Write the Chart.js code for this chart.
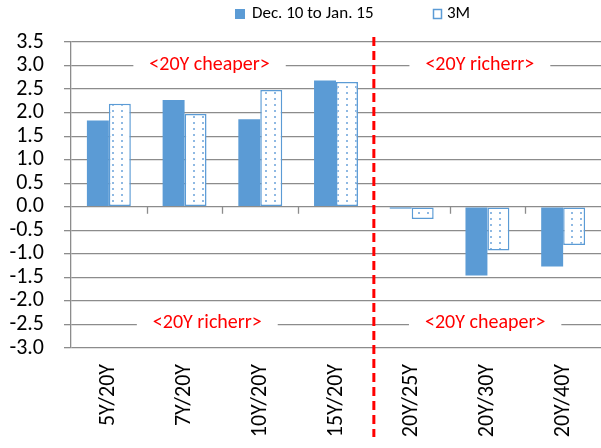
<!doctype html>
<html lang="en">
<head>
<meta charset="utf-8">
<title>20Y relative value</title>
<script src="https://cdn.jsdelivr.net/npm/chart.js"></script>
<style>
  html, body { margin: 0; padding: 0; background: #fff; }
</style>
</head>
<body>
<canvas id="barChart" width="601" height="448"></canvas>
<script>
const categories = ['5Y/20Y', '7Y/20Y', '10Y/20Y', '15Y/20Y', '20Y/25Y', '20Y/30Y', '20Y/40Y'];
const decToJan = [1.83, 2.27, 1.86, 2.68, -0.04, -1.46, -1.27];
const threeMonth = [2.19, 1.97, 2.48, 2.65, -0.26, -0.93, -0.81];
const seriesNames = ['Dec. 10 to Jan. 15', '3M'];
const yMin = -3.0, yMax = 3.5, yStep = 0.5;
// note text, category position, y value
const noteTexts = ['<20Y cheaper>', '<20Y richerr>', '<20Y richerr>', '<20Y cheaper>'];
const noteCats = [1.33, 4.9, 1.3, 4.97];
const noteVals = [3.0, 3.0, -2.5, -2.5];
const dividerCat = 3.5;

const FONT = 'Carlito, Calibri, Lato, sans-serif';
const BLUE = '#5b9bd5';
const GRID = '#8c8c8c';

function dotPattern() {
    const c = document.createElement('canvas');
    c.width = 9; c.height = 6;
    const g = c.getContext('2d');
    g.fillStyle = '#fff';
    g.fillRect(0, 0, 9, 6);
    g.fillStyle = '#8fb9e3';
    g.fillRect(4, 2, 2, 2);
    return g.createPattern(c, 'repeat');
}
const dots = dotPattern();

// tick marks on the zero line, between categories
const zeroTicks = {
    id: 'zeroTicks',
    beforeDatasetsDraw(chart) {
        const { ctx, scales: { x, y } } = chart;
        const y0 = y.getPixelForValue(0);
        ctx.save();
        ctx.strokeStyle = GRID;
        ctx.lineWidth = 1.3;
        for (let i = 1; i < categories.length; i++) {
            const px = Math.round(x.getPixelForValue(i - 0.5)) + 0.5;
            ctx.beginPath();
            ctx.moveTo(px, y0);
            ctx.lineTo(px, y0 + 7);
            ctx.stroke();
        }
        ctx.restore();
    }
};

// red text notes, red divider, legend
const extras = {
    id: 'extras',
    afterDatasetsDraw(chart) {
        const { ctx, chartArea, scales: { x, y } } = chart;
        ctx.save();
        ctx.font = '20px ' + FONT;
        ctx.textAlign = 'center';
        ctx.textBaseline = 'middle';
        noteTexts.forEach((t, i) => {
            const cx = x.getPixelForValue(noteCats[i]);
            const cy = y.getPixelForValue(noteVals[i]) - 1;
            const w = ctx.measureText(t).width + 32;
            ctx.fillStyle = '#fff';
            ctx.fillRect(cx - w / 2, cy - 9, w, 18);
            ctx.fillStyle = '#ff0000';
            ctx.fillText(t, cx, cy);
        });

        const dx = x.getPixelForValue(dividerCat);
        ctx.strokeStyle = '#ff0000';
        ctx.lineWidth = 3;
        ctx.setLineDash([9, 5]);
        ctx.beginPath();
        ctx.moveTo(dx, chartArea.top - 5);
        ctx.lineTo(dx, chartArea.bottom + 89);
        ctx.stroke();
        ctx.setLineDash([]);

        // legend
        ctx.font = '17px ' + FONT;
        ctx.textAlign = 'left';
        ctx.textBaseline = 'middle';
        const ly = 14;
        let lx = 235;
        ctx.fillStyle = BLUE;
        ctx.fillRect(lx, ly - 5, 10, 10);
        ctx.fillStyle = '#000';
        ctx.fillText(seriesNames[0], lx + 17, ly);
        lx = 433;
        ctx.fillStyle = '#fff';
        ctx.fillRect(lx, ly - 5, 9, 10);
        ctx.strokeStyle = BLUE;
        ctx.lineWidth = 1.5;
        ctx.strokeRect(lx + 0.5, ly - 4.5, 8, 9);
        ctx.fillStyle = '#000';
        ctx.fillText(seriesNames[1], lx + 14, ly);
        ctx.restore();
    }
};

const ctx = document.getElementById('barChart').getContext('2d');
new Chart(ctx, {
    type: 'bar',
    data: {
        labels: categories,
        datasets: [{
            label: seriesNames[0],
            data: decToJan,
            backgroundColor: BLUE,
            borderWidth: 0
        }, {
            label: seriesNames[1],
            data: threeMonth,
            backgroundColor: dots,
            borderColor: BLUE,
            borderWidth: 1.5,
            borderSkipped: false
        }]
    },
    options: {
        responsive: false,
        devicePixelRatio: 1,
        animation: false,
        categoryPercentage: 0.58,
        barPercentage: 1.0,
        layout: { padding: { top: 42, right: 0, left: 0, bottom: 0 } },
        scales: {
            x: {
                grid: { display: false, drawTicks: false },
                border: { display: false },
                ticks: {
                    color: '#000',
                    font: { family: FONT, size: 22 },
                    maxRotation: 90,
                    minRotation: 90,
                    padding: 16,
                    autoSkip: false
                },
                afterFit(s) {
                    s.height = 100;
                    s.paddingLeft = 0;
                    s.paddingRight = 0;
                }
            },
            y: {
                min: yMin,
                max: yMax,
                ticks: {
                    stepSize: yStep,
                    autoSkip: false,
                    color: '#000',
                    font: { family: FONT, size: 22 },
                    padding: 20,
                    callback: v => v.toFixed(1)
                },
                grid: { color: GRID, lineWidth: 1.3, tickLength: 7 },
                border: { color: GRID, width: 1.3 },
                afterFit(s) { s.width = 71; }
            }
        },
        plugins: {
            legend: { display: false },
            tooltip: { enabled: false }
        }
    },
    plugins: [zeroTicks, extras]
});
</script>
</body>
</html>
